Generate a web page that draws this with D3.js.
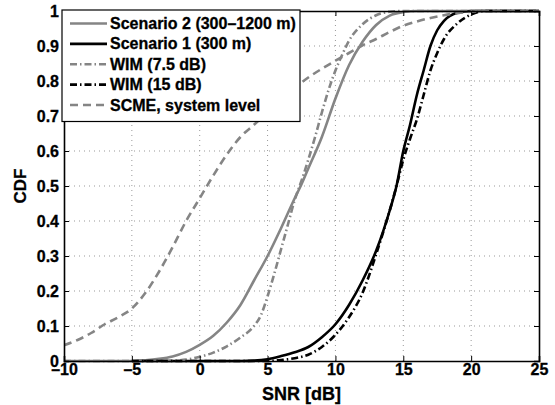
<!DOCTYPE html>
<html>
<head>
<meta charset="utf-8">
<script src="https://cdn.jsdelivr.net/npm/d3@7"></script>
<style>
  body { margin: 0; background: #fff; }
</style>
</head>
<body>
<div id="chart"></div>
<script>
// data (SNR in dB, CDF)
var snrS2 = [-10, -5, -4, -3, -2, -1, 0, 1, 2, 3, 4, 5, 6, 7, 7.5, 8, 9, 10, 11, 12, 13, 14, 15, 16, 25];
var cdfS2 = [0, 0, 0.002, 0.006, 0.013, 0.026, 0.046, 0.072, 0.11, 0.16, 0.23, 0.3, 0.38, 0.465, 0.505, 0.55, 0.64, 0.75, 0.845, 0.912, 0.96, 0.987, 0.997, 1, 1];

var snrS1 = [-5, 3, 4, 5, 6, 7, 8, 9, 10, 11, 12, 13, 14, 14.5, 15, 15.5, 16, 16.5, 17, 17.5, 18, 19, 20, 25];
var cdfS1 = [0, 0, 0.001, 0.005, 0.014, 0.025, 0.04, 0.068, 0.105, 0.16, 0.23, 0.315, 0.43, 0.5, 0.6, 0.675, 0.76, 0.83, 0.9, 0.945, 0.972, 0.995, 1, 1];

var snrWim75 = [-10, -3, -2, -1, 0, 1, 2, 3, 4, 4.5, 5, 5.5, 6, 6.5, 7, 7.5, 8, 8.5, 9, 9.5, 10, 10.5, 11, 12, 13, 14, 15, 25];
var cdfWim75 = [0, 0, 0.001, 0.004, 0.012, 0.024, 0.042, 0.067, 0.1, 0.13, 0.185, 0.25, 0.32, 0.39, 0.46, 0.515, 0.575, 0.64, 0.71, 0.775, 0.83, 0.875, 0.915, 0.962, 0.988, 0.998, 1, 1];

var snrWim15 = [-5, 5, 6, 7, 8, 9, 10, 11, 12, 13, 14, 14.5, 15, 15.5, 16, 16.5, 17, 17.5, 18, 19, 20, 21, 25];
var cdfWim15 = [0, 0, 0.003, 0.008, 0.018, 0.04, 0.075, 0.125, 0.195, 0.305, 0.43, 0.5, 0.575, 0.635, 0.69, 0.76, 0.83, 0.88, 0.92, 0.965, 0.99, 1, 1];

var snrScme = [-10, -9, -8, -7, -6, -5, -4, -3, -2, -1, 0, 1, 2, 3, 4, 5, 6, 7, 8, 9, 10, 11, 12, 13, 14, 15, 16, 17, 18, 19, 20, 21, 25];
var cdfScme = [0.045, 0.06, 0.08, 0.105, 0.125, 0.15, 0.195, 0.255, 0.325, 0.4, 0.465, 0.53, 0.59, 0.64, 0.675, 0.71, 0.745, 0.78, 0.81, 0.835, 0.858, 0.88, 0.902, 0.92, 0.94, 0.958, 0.97, 0.98, 0.988, 0.994, 0.998, 1, 1];

var seriesNames = ["Scenario 2 (300\u20131200 m)", "Scenario 1 (300 m)", "WIM (7.5 dB)", "WIM (15 dB)", "SCME, system level"];
var xTicks = [-10, -5, 0, 5, 10, 15, 20, 25];
var yTicks = [0, 0.1, 0.2, 0.3, 0.4, 0.5, 0.6, 0.7, 0.8, 0.9, 1];

var FONT = "'Liberation Sans', Arial, Helvetica, sans-serif";

// 1. Build series list
var series = [
    {name: seriesNames[0], x: snrS2, y: cdfS2, color: "#858585", dash: null},
    {name: seriesNames[1], x: snrS1, y: cdfS1, color: "#000", dash: null},
    {name: seriesNames[2], x: snrWim75, y: cdfWim75, color: "#858585", dash: "7,3,1.5,3"},
    {name: seriesNames[3], x: snrWim15, y: cdfWim15, color: "#000", dash: "7,3,1.5,3"},
    {name: seriesNames[4], x: snrScme, y: cdfScme, color: "#858585", dash: "8,5"}
];

// 2. Svg and scales
var width = 555;
var height = 405;
var margin = {left: 64, top: 11, right: 16, bottom: 44};

const svg = d3.select("#chart")
            .append("svg")
            .attr("width", width)
            .attr("height", height);

var xScale = d3.scaleLinear()
            .domain([-10, 25])
            .range([margin.left, width - margin.right]);

var yScale = d3.scaleLinear()
            .domain([0, 1])
            .range([height - margin.bottom, margin.top]);

var x0 = xScale.range()[0], x1 = xScale.range()[1];
var y0 = yScale.range()[0], y1 = yScale.range()[1];

// 3. Dotted grid
svg.append("g")
    .selectAll("line")
    .data(xTicks.slice(1, -1))
    .enter()
    .append("line")
    .attr("x1", d => xScale(d)).attr("x2", d => xScale(d))
    .attr("y1", y0).attr("y2", y1)
    .attr("stroke", "#999").attr("stroke-width", 1)
    .attr("stroke-dasharray", "1,4");

svg.append("g")
    .selectAll("line")
    .data(yTicks.slice(1, -1))
    .enter()
    .append("line")
    .attr("x1", x0).attr("x2", x1)
    .attr("y1", d => yScale(d)).attr("y2", d => yScale(d))
    .attr("stroke", "#999").attr("stroke-width", 1)
    .attr("stroke-dasharray", "1,4");

// 4. Curves
svg.append("clipPath").attr("id", "clip")
    .append("rect")
    .attr("x", x0).attr("y", y1 - 2)
    .attr("width", x1 - x0).attr("height", y0 - y1 + 4);

var line = d3.line()
    .x(d => xScale(d[0]))
    .y(d => yScale(d[1]))
    .curve(d3.curveMonotoneX);

svg.append("g")
    .attr("clip-path", "url(#clip)")
    .selectAll("path")
    .data(series)
    .enter()
    .append("path")
    .attr("d", d => line(d.x.map((v, i) => [v, d.y[i]])))
    .attr("fill", "none")
    .attr("stroke", d => d.color)
    .attr("stroke-width", 2.6)
    .attr("stroke-dasharray", d => d.dash);

// 5. Axes (box with inward ticks on all sides)
var fmt = d => d === 0 ? "0" : (d === 1 ? "1" : d3.format(".1f")(d));
var xAxis = d3.axisBottom(xScale).tickValues(xTicks).tickSize(-5).tickPadding(3)
    .tickFormat(d => d < 0 ? "\u2013" + Math.abs(d) : d);
var yAxis = d3.axisLeft(yScale).tickValues(yTicks).tickSize(-5).tickPadding(5).tickFormat(fmt);

svg.append("g")
    .attr("transform", `translate(0, ${y0})`)
    .call(xAxis);
svg.append("g")
    .attr("transform", `translate(${x0}, 0)`)
    .call(yAxis);

svg.append("g")
    .attr("transform", `translate(0, ${y1})`)
    .call(d3.axisTop(xScale).tickValues(xTicks).tickSize(-5).tickFormat(""));
svg.append("g")
    .attr("transform", `translate(${x1}, 0)`)
    .call(d3.axisRight(yScale).tickValues(yTicks).tickSize(-5).tickFormat(""));

svg.selectAll(".domain").attr("stroke", "#000").attr("stroke-width", 1.6);
svg.selectAll(".tick line").attr("stroke", "#000").attr("stroke-width", 1);
svg.selectAll(".tick text")
    .attr("fill", "#000")
    .attr("font-family", FONT)
    .attr("font-size", 16)
    .attr("font-weight", 700)
    .attr("stroke", "#000")
    .attr("stroke-width", 0.3);

// 6. Legend
var lg = svg.append("g");
lg.append("rect")
    .attr("x", 62).attr("y", 10)
    .attr("width", 238).attr("height", 111.5)
    .attr("fill", "#fff").attr("stroke", "#000").attr("stroke-width", 1.2);

var rowY = d3.scaleLinear().domain([0, 4]).range([23.5, 105]);
var items = lg.selectAll(".item")
    .data(series)
    .enter()
    .append("g")
    .attr("transform", (d, i) => `translate(0, ${rowY(i)})`);

items.append("line")
    .attr("x1", 70).attr("x2", 107)
    .attr("stroke", d => d.color)
    .attr("stroke-width", 2.6)
    .attr("stroke-dasharray", d => d.dash);

items.append("text")
    .attr("x", 110).attr("y", 5.6)
    .attr("font-family", FONT)
    .attr("font-size", 16)
    .attr("font-weight", 700)
    .attr("stroke", "#000")
    .attr("stroke-width", 0.3)
    .text(d => d.name);

// 7. Axis labels
svg.append("text")
    .attr("x", (x0 + x1) / 2).attr("y", 400)
    .attr("text-anchor", "middle")
    .attr("font-family", FONT)
    .attr("font-size", 18)
    .attr("font-weight", 700)
    .attr("stroke", "#000")
    .attr("stroke-width", 0.3)
    .text("SNR [dB]");

svg.append("text")
    .attr("transform", `translate(26, ${(y0 + y1) / 2}) rotate(-90)`)
    .attr("text-anchor", "middle")
    .attr("font-family", FONT)
    .attr("font-size", 17)
    .attr("font-weight", 700)
    .attr("stroke", "#000")
    .attr("stroke-width", 0.3)
    .text("CDF");
</script>
</body>
</html>
